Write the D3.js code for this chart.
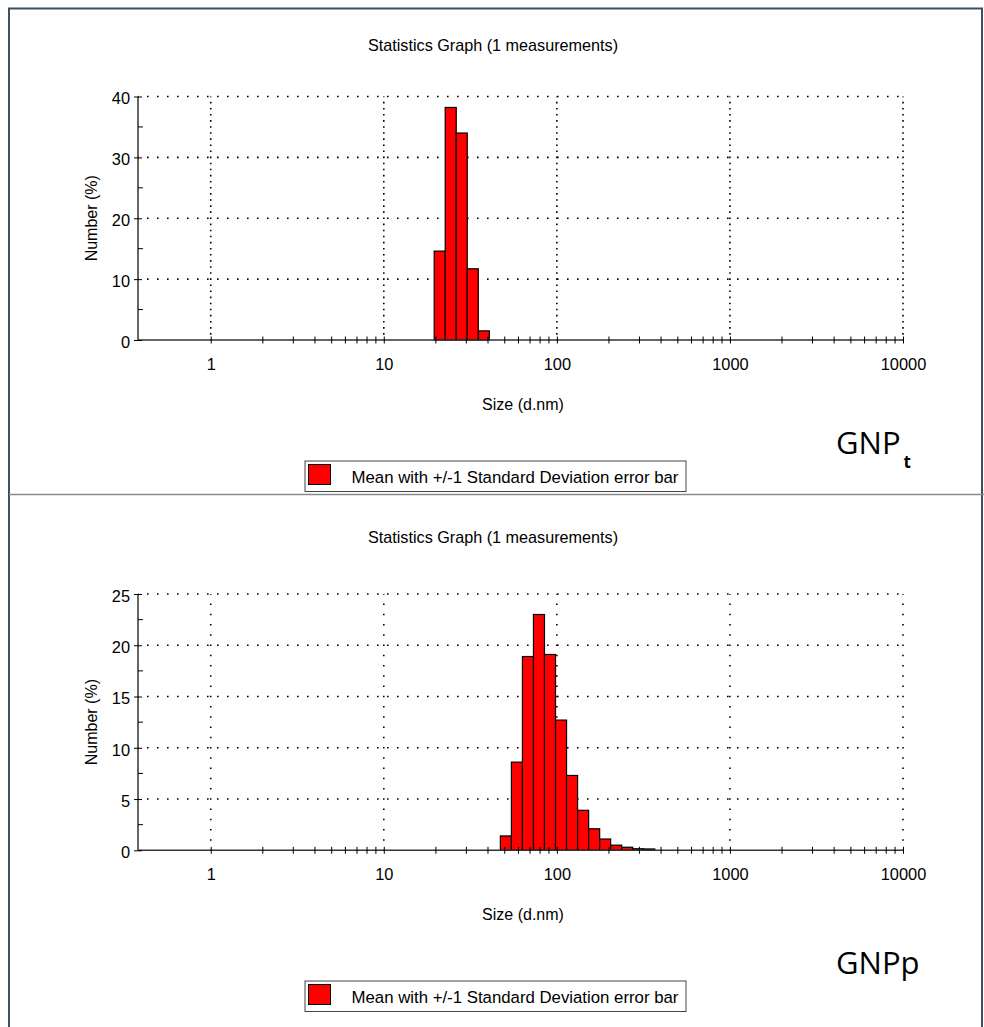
<!DOCTYPE html>
<html>
<head>
<meta charset="utf-8">
<script src="https://cdn.jsdelivr.net/npm/d3@7"></script>
<style>
  html, body { margin: 0; padding: 0; background: #fff; }
  svg { display: block; }
  text { font-family: "Liberation Sans", Arial, sans-serif; fill: #000; }
</style>
</head>
<body>
<svg id="chart" width="984" height="1027"></svg>
<script>
// ---------- data ----------
const chartTitle = "Statistics Graph (1 measurements)";
const xAxisTitle = "Size (d.nm)";
const yAxisTitle = "Number (%)";
const legendLabel = "Mean with +/-1 Standard Deviation error bar";

const xTickValues = [1, 10, 100, 1000, 10000];
const xTickLabels = ["1", "10", "100", "1000", "10000"];

// GNPt panel
const sizeClassesTop = [21.04, 24.36, 28.21, 32.67, 37.84];
const numberTop = [14.6, 38.2, 34.0, 11.7, 1.5];
const yTicksTop = [0, 10, 20, 30, 40];
const yMinorTop = [5, 15, 25, 35];

// GNPp panel
const sizeClassesBottom = [50.75, 58.77, 68.06, 78.82, 91.28, 105.7, 122.4, 141.8, 164.2, 190.1, 220.2, 255.0, 295.3, 342.0];
const numberBottom = [1.4, 8.6, 18.9, 23.0, 19.1, 12.7, 7.3, 3.9, 2.1, 1.1, 0.5, 0.3, 0.15, 0.13];
const yTicksBottom = [0, 5, 10, 15, 20, 25];
const yMinorBottom = [2.5, 7.5, 12.5, 17.5, 22.5];

// instrument size classes: 70 classes spaced geometrically from 0.4 to 10000 nm
const classRatio = Math.pow(10000 / 0.4, 1 / 69);

const svg = d3.select("#chart");

// ---------- frame ----------
svg.append("path")
  .attr("d", "M9,1027 L9,8.5 L982,8.5 L982,1027")
  .attr("fill", "none").attr("stroke", "#3f4e60").attr("stroke-width", 2);
svg.append("line")
  .attr("x1", 9).attr("x2", 984).attr("y1", 494.5).attr("y2", 494.5)
  .attr("stroke", "#8a8a8a").attr("stroke-width", 1.5);

function drawPanel(cfg) {
  const g = svg.append("g");
  const x = d3.scaleLog().domain([0.38, 10000]).range([138, 903]);
  const y = d3.scaleLinear().domain([0, cfg.yMax]).range([cfg.y0, cfg.yTop]);

  // title
  g.append("text").attr("x", 493).attr("y", cfg.titleY)
    .attr("text-anchor", "middle").style("font-size", "16.2px").text(chartTitle);

  // dotted grid (horizontal)
  g.append("g").selectAll("line").data(cfg.yTicks.filter(d => d > 0)).join("line")
    .attr("x1", 138).attr("x2", 903)
    .attr("y1", d => y(d)).attr("y2", d => y(d))
    .attr("stroke", "#000").attr("stroke-width", 1.6)
    .attr("stroke-dasharray", "1.6,8.4").attr("stroke-dashoffset", -9);
  // dotted grid (vertical)
  const unit = y(0) - y(1);
  g.append("g").selectAll("line").data(xTickValues).join("line")
    .attr("x1", d => x(d)).attr("x2", d => x(d))
    .attr("y1", y(0)).attr("y2", y(cfg.yMax))
    .attr("stroke", "#000").attr("stroke-width", 1.6)
    .attr("stroke-dasharray", `1.6,${(unit - 1.6).toFixed(3)}`)
    .attr("stroke-dashoffset", -unit + 0.8);

  // bars
  g.append("g").selectAll("rect").data(cfg.sizes).join("rect")
    .attr("x", d => x(d / Math.sqrt(classRatio)))
    .attr("width", d => x(d * Math.sqrt(classRatio)) - x(d / Math.sqrt(classRatio)))
    .attr("y", (d, i) => y(cfg.values[i]))
    .attr("height", (d, i) => y(0) - y(cfg.values[i]))
    .attr("fill", "#ff0000").attr("stroke", "#000").attr("stroke-width", 1.2);

  // x axis
  const xAxis = d3.axisBottom(x)
    .tickValues(xTickValues)
    .tickFormat((d, i) => xTickLabels[i])
    .tickSize(3.5).tickPadding(15);
  const xg = g.append("g").attr("transform", `translate(0,${y(0)})`).call(xAxis);
  xg.select(".domain").attr("d", `M138,0H903`).attr("stroke", "#333").attr("stroke-width", 1.5);
  xg.selectAll(".tick line").attr("y1", -3.5).attr("y2", 3.5).attr("stroke", "#000");
  xg.selectAll(".tick text").style("font-size", "16.4px").style("font-family", "Liberation Sans, Arial, sans-serif");
  // minor ticks 2..9 per decade
  const minorX = [];
  for (let dec = 1; dec < 10000; dec *= 10) for (let k = 2; k <= 9; k++) minorX.push(dec * k);
  xg.append("g").selectAll("line").data(minorX).join("line")
    .attr("x1", d => x(d)).attr("x2", d => x(d))
    .attr("y1", -3.5).attr("y2", 3.5).attr("stroke", "#000");

  // y axis
  const yAxis = d3.axisLeft(y).tickValues(cfg.yTicks).tickSize(4).tickPadding(4);
  const yg = g.append("g").attr("transform", "translate(138,0)").call(yAxis);
  yg.select(".domain").attr("d", `M0,${y(0)}V${y(cfg.yMax)}`).attr("stroke", "#333").attr("stroke-width", 1.5);
  yg.selectAll(".tick line").attr("x1", -4).attr("x2", 4).attr("stroke", "#000");
  yg.selectAll(".tick text").style("font-size", "16.4px").style("font-family", "Liberation Sans, Arial, sans-serif")
    .attr("dy", "0.45em");
  yg.append("g").selectAll("line").data(cfg.yMinor).join("line")
    .attr("x1", 0).attr("x2", 5).attr("y1", d => y(d)).attr("y2", d => y(d)).attr("stroke", "#000");

  // axis titles
  g.append("text").attr("x", 523).attr("y", cfg.y0 + 70)
    .attr("text-anchor", "middle").style("font-size", "16px").text(xAxisTitle);
  g.append("text")
    .attr("transform", `translate(97,${(cfg.y0 + cfg.yTop) / 2}) rotate(-90)`)
    .attr("text-anchor", "middle").style("font-size", "16px").text(yAxisTitle);

  // sample label
  const lab = g.append("text").attr("x", 836).attr("y", cfg.labelY)
    .style("font-family", "'Open Sans', 'Noto Sans', sans-serif").style("font-size", "31px");
  lab.append("tspan").text(cfg.label);
  if (cfg.sub) {
    lab.append("tspan").attr("dy", 14).attr("dx", 3)
      .style("font-size", "17px").style("font-weight", "bold").text(cfg.sub);
  }

  // legend
  const lg = g.append("g").attr("transform", `translate(305,${cfg.legendY})`);
  lg.append("rect").attr("x", 0).attr("y", 0).attr("width", 381).attr("height", 30.5)
    .attr("fill", "#fff").attr("stroke", "#444").attr("stroke-width", 1);
  lg.append("rect").attr("x", 3.5).attr("y", 3.5).attr("width", 22).attr("height", 20)
    .attr("fill", "#ff0000").attr("stroke", "#000").attr("stroke-width", 1);
  lg.append("text").attr("x", 46.5).attr("y", 22)
    .style("font-size", "16.8px").text(legendLabel);
}

drawPanel({
  sizes: sizeClassesTop, values: numberTop, yMax: 40, yTicks: yTicksTop, yMinor: yMinorTop,
  y0: 340, yTop: 96.5, titleY: 50.5, label: "GNP", sub: "t", labelY: 454, legendY: 461
});
drawPanel({
  sizes: sizeClassesBottom, values: numberBottom, yMax: 25, yTicks: yTicksBottom, yMinor: yMinorBottom,
  y0: 850.3, yTop: 594, titleY: 543, label: "GNPp", sub: null, labelY: 974, legendY: 981
});
</script>
</body>
</html>
